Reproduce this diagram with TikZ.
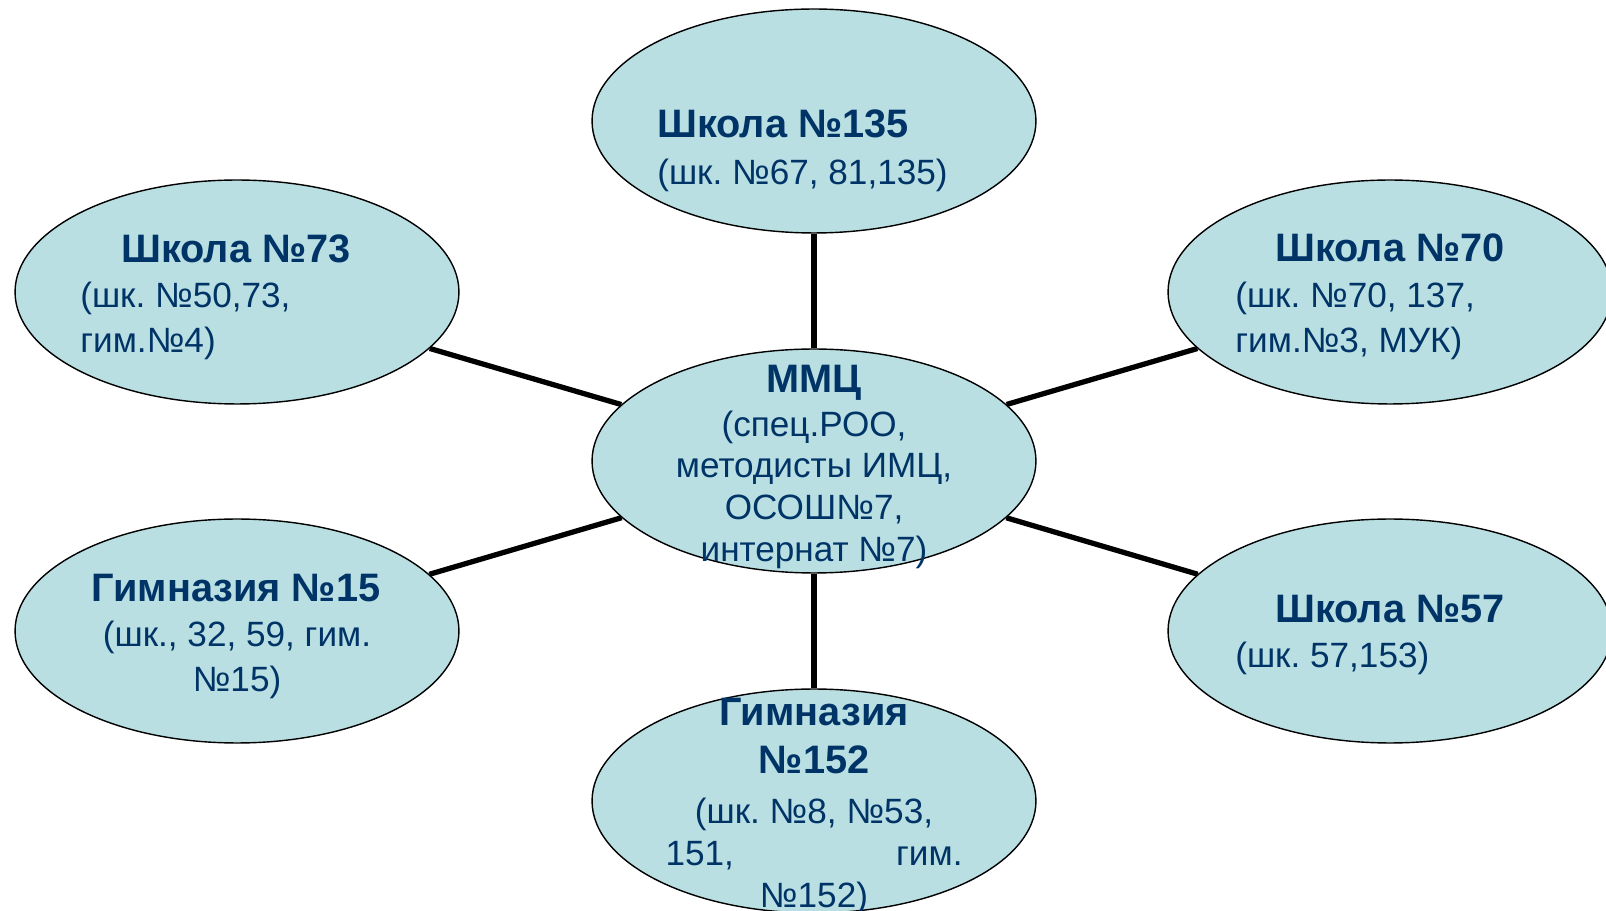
\documentclass[tikz,border=0pt]{standalone}
\usepackage{fontspec}
\setmainfont{Liberation Sans}
\usetikzlibrary{shapes,positioning}
\definecolor{ovalfill}{RGB}{185,223,227}
\definecolor{txtblue}{RGB}{0,51,102}
\frenchspacing
\tikzset{
  oval/.style={ellipse,draw=black,line width=0.8pt,fill=ovalfill,
    minimum width=8.88cm,minimum height=4.48cm,inner sep=0pt},
  head/.style={font=\fontsize{22.6}{26}\selectfont\bfseries,text=txtblue,inner sep=0pt},
  body/.style={font=\fontsize{20}{24}\selectfont,text=txtblue,inner sep=0pt},
  link/.style={line width=3pt}
}
\begin{document}
\begin{tikzpicture}[x=0.02cm,y=-0.02cm]
  \useasboundingbox[fill=white] (0,0) rectangle (1606,911);
  \node[oval](mmc) at (814,461){};
  \node[oval](s135) at (814,121){};
  \node[oval](s73) at (237,292){};
  \node[oval](s70) at (1390,292){};
  \node[oval](g15) at (237,631){};
  \node[oval](s57) at (1390,631){};
  \node[oval](g152) at (814,801){};
  \path[link] (mmc) edge (s135) edge (s73) edge (s70)
    edge (g15) edge (s57) edge (g152);
  % texts
  \node[head,anchor=base](hmmc) at (814,393){ММЦ};
  \node[body,anchor=base](bmmc1) at (814,437){(спец.РОО,};
  \node[body,anchor=base](bmmc2) at (814,478){методисты ИМЦ,};
  \node[body,anchor=base](bmmc3) at (814,520){ОСОШ№7,};
  \node[body,anchor=base](bmmc4) at (814,562){интернат №7)};
  \node[head,anchor=base west](h135) at (657,138){Школа №135};
  \node[body,anchor=base west](b135) at (657,185){(шк. №67, 81,135)};
  \node[head,anchor=base](h73) at (236,263){Школа №73};
  \node[body,anchor=base west](b73a) at (80,308){(шк. №50,73,};
  \node[body,anchor=base west](b73b) at (80,353){гим.№4)};
  \node[head,anchor=base](h70) at (1390,262){Школа №70};
  \node[body,anchor=base west](b70a) at (1235,308){(шк. №70, 137,};
  \node[body,anchor=base west](b70b) at (1235,353){гим.№3, МУК)};
  \node[head,anchor=base](h15) at (236,602){Гимназия №15};
  \node[body,anchor=base](b15a) at (237,647){(шк., 32, 59, гим.};
  \node[body,anchor=base](b15b) at (237,692){№15)};
  \node[head,anchor=base](h57) at (1390,623){Школа №57};
  \node[body,anchor=base west](b57) at (1235,668){(шк. 57,153)};
  \node[head,anchor=base](h152a) at (814,725){Гимназия};
  \node[head,anchor=base](h152b) at (814,773){№152};
  \node[body,anchor=base](b152a) at (814,823){(шк. №8, №53,};
  \node[body,anchor=base](b152b) at (814,865){\makebox[5.94cm]{151,\hfill гим.}};
  \node[body,anchor=base](b152c) at (814,907){№152)};
\end{tikzpicture}
\end{document}
